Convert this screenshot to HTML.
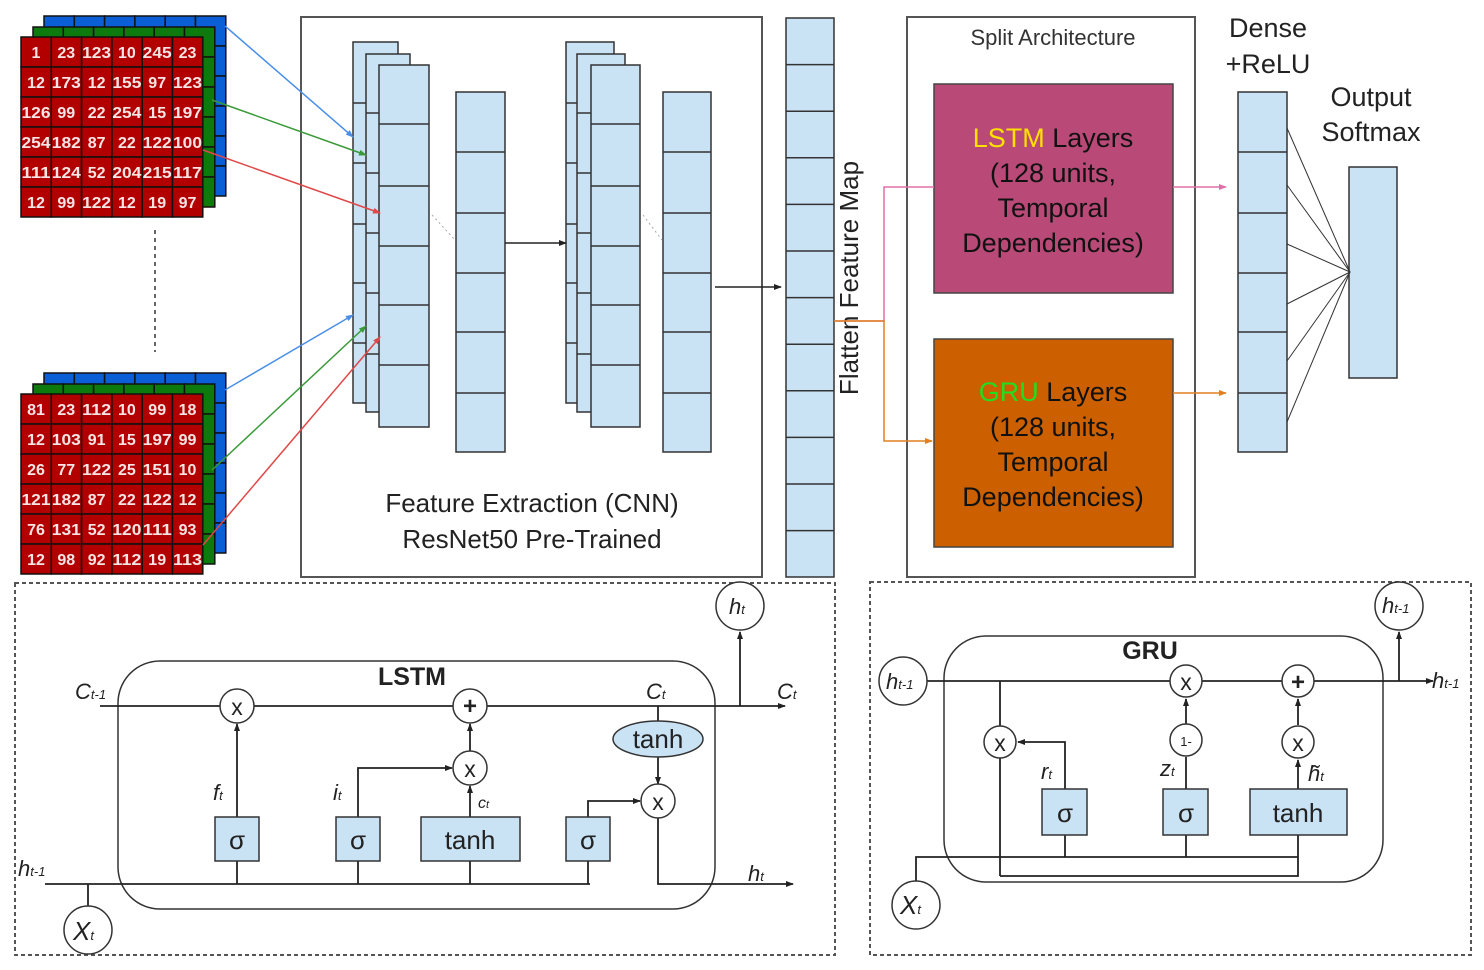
<!DOCTYPE html>
<html><head><meta charset="utf-8"><style>
html,body{margin:0;padding:0;background:#fff;}
svg{display:block;font-family:"Liberation Sans",sans-serif;}
</style></head><body>
<svg id="s" width="1484" height="970" viewBox="0 0 1484 970" xmlns="http://www.w3.org/2000/svg">
<defs>
<marker id="ak" markerWidth="8" markerHeight="8" refX="7" refY="4" orient="auto" markerUnits="userSpaceOnUse"><path d="M0,1 L8,4 L0,7z" fill="#222"/></marker>
<marker id="ab" markerWidth="8" markerHeight="8" refX="7" refY="4" orient="auto" markerUnits="userSpaceOnUse"><path d="M0,1 L8,4 L0,7z" fill="#4a8fe8"/></marker>
<marker id="ag" markerWidth="8" markerHeight="8" refX="7" refY="4" orient="auto" markerUnits="userSpaceOnUse"><path d="M0,1 L8,4 L0,7z" fill="#3a9a3a"/></marker>
<marker id="ar" markerWidth="8" markerHeight="8" refX="7" refY="4" orient="auto" markerUnits="userSpaceOnUse"><path d="M0,1 L8,4 L0,7z" fill="#e04848"/></marker>
<marker id="ap" markerWidth="8" markerHeight="8" refX="7" refY="4" orient="auto" markerUnits="userSpaceOnUse"><path d="M0,1 L8,4 L0,7z" fill="#e070a8"/></marker>
<marker id="ao" markerWidth="8" markerHeight="8" refX="7" refY="4" orient="auto" markerUnits="userSpaceOnUse"><path d="M0,1 L8,4 L0,7z" fill="#e08020"/></marker>
</defs>
<g id="grids"></g>
<line x1="155" y1="230" x2="155" y2="352" stroke="#333" stroke-width="1.5" stroke-dasharray="4,4"/>
<rect x="301" y="17" width="461" height="560" fill="none" stroke="#555" stroke-width="2"/>
<g id="cnn" fill="#c9e2f4" stroke="#333" stroke-width="1.5"></g>
<line x1="432" y1="215" x2="455" y2="240" stroke="#aaa" stroke-dasharray="2,3"/>
<line x1="643" y1="215" x2="662" y2="240" stroke="#aaa" stroke-dasharray="2,3"/>
<line x1="505" y1="243" x2="566" y2="243" stroke="#222" stroke-width="1.5" marker-end="url(#ak)"/>
<line x1="715" y1="287" x2="781" y2="287" stroke="#222" stroke-width="1.5" marker-end="url(#ak)"/>
<text x="532" y="512" font-size="26" text-anchor="middle" fill="#222">Feature Extraction (CNN)</text>
<text x="532" y="548" font-size="26" text-anchor="middle" fill="#222">ResNet50 Pre-Trained</text>
<line x1="225" y1="26" x2="353" y2="137" stroke="#4a8fe8" stroke-width="1.5" marker-end="url(#ab)"/>
<line x1="212" y1="100" x2="366" y2="155" stroke="#3a9a3a" stroke-width="1.5" marker-end="url(#ag)"/>
<line x1="203" y1="150" x2="380" y2="213" stroke="#e04848" stroke-width="1.5" marker-end="url(#ar)"/>
<line x1="225" y1="390" x2="353" y2="315" stroke="#4a8fe8" stroke-width="1.5" marker-end="url(#ab)"/>
<line x1="212" y1="470" x2="366" y2="326" stroke="#3a9a3a" stroke-width="1.5" marker-end="url(#ag)"/>
<line x1="203" y1="545" x2="380" y2="337" stroke="#e04848" stroke-width="1.5" marker-end="url(#ar)"/>
<g id="flat" fill="#c9e2f4" stroke="#333" stroke-width="1.5"></g>
<text transform="translate(858,278) rotate(-90)" font-size="26" text-anchor="middle" fill="#222">Flatten Feature Map</text>
<rect x="907" y="17" width="288" height="560" fill="none" stroke="#555" stroke-width="2"/>
<text x="1053" y="45" font-size="22" text-anchor="middle" fill="#333">Split Architecture</text>
<rect x="934" y="84" width="239" height="209" fill="#b94a77" stroke="#444" stroke-width="1.5"/>
<rect x="934" y="339" width="239" height="208" fill="#cc6000" stroke="#444" stroke-width="1.5"/>
<g font-size="27" text-anchor="middle" fill="#111">
<text x="1053" y="147"><tspan fill="#ffe000">LSTM</tspan> Layers</text>
<text x="1053" y="182">(128 units,</text>
<text x="1053" y="217">Temporal</text>
<text x="1053" y="252">Dependencies)</text>
<text x="1053" y="401"><tspan fill="#22dd22">GRU</tspan> Layers</text>
<text x="1053" y="436">(128 units,</text>
<text x="1053" y="471">Temporal</text>
<text x="1053" y="506">Dependencies)</text>
</g>
<polyline points="834,321 884,321 884,187 934,187" fill="none" stroke="#e070a8" stroke-width="1.5"/>
<polyline points="834,321 884,321 884,441 932,441" fill="none" stroke="#e08020" stroke-width="1.5" marker-end="url(#ao)"/>
<line x1="1173" y1="187" x2="1226" y2="187" stroke="#e070a8" stroke-width="1.5" marker-end="url(#ap)"/>
<line x1="1173" y1="393" x2="1226" y2="393" stroke="#e08020" stroke-width="1.5" marker-end="url(#ao)"/>
<text x="1268" y="37" font-size="27" text-anchor="middle" fill="#222">Dense</text>
<text x="1268" y="73" font-size="27" text-anchor="middle" fill="#222">+ReLU</text>
<text x="1371" y="106" font-size="27" text-anchor="middle" fill="#222">Output</text>
<text x="1371" y="141" font-size="27" text-anchor="middle" fill="#222">Softmax</text>
<g id="dense" fill="#c9e2f4" stroke="#333" stroke-width="1.5"></g>
<rect x="1349" y="167" width="48" height="211" fill="#c9e2f4" stroke="#333" stroke-width="1.5"/>
<g stroke="#333" stroke-width="1">
<line x1="1287" y1="128" x2="1350" y2="272"/><line x1="1287" y1="185" x2="1350" y2="272"/>
<line x1="1287" y1="244" x2="1350" y2="272"/><line x1="1287" y1="304" x2="1350" y2="272"/>
<line x1="1287" y1="361" x2="1350" y2="272"/><line x1="1287" y1="422" x2="1350" y2="272"/>
</g>
<rect x="15" y="583" width="820" height="372" fill="none" stroke="#555" stroke-width="2" stroke-dasharray="4,3"/>
<rect x="118" y="661" width="597" height="248" rx="42" fill="none" stroke="#333" stroke-width="1.5"/>
<text x="412" y="685" font-size="25" font-weight="bold" text-anchor="middle" fill="#222">LSTM</text>
<g stroke="#222" stroke-width="1.8" fill="none">
<line x1="100" y1="706" x2="785" y2="706" marker-end="url(#ak)"/>
<line x1="740" y1="706" x2="740" y2="632" marker-end="url(#ak)"/>
<line x1="45" y1="884" x2="590" y2="884"/>
<line x1="88" y1="884" x2="88" y2="906"/>
<line x1="237" y1="817" x2="237" y2="724" marker-end="url(#ak)"/>
<polyline points="358,817 358,768 452,768" marker-end="url(#ak)"/>
<line x1="358" y1="861" x2="358" y2="884"/><line x1="237" y1="861" x2="237" y2="884"/>
<line x1="470" y1="861" x2="470" y2="884"/><line x1="588" y1="861" x2="588" y2="884"/>
<line x1="470" y1="817" x2="470" y2="786" marker-end="url(#ak)"/>
<line x1="470" y1="751" x2="470" y2="724" marker-end="url(#ak)"/>
<polyline points="588,817 588,801 640,801" marker-end="url(#ak)"/>
<line x1="658" y1="706" x2="658" y2="721"/>
<line x1="658" y1="757" x2="658" y2="784" marker-end="url(#ak)"/>
<polyline points="658,818 658,884 793,884" marker-end="url(#ak)"/>
</g>
<g fill="#fff" stroke="#333" stroke-width="1.5">
<circle cx="237" cy="706" r="17"/><circle cx="470" cy="706" r="17"/><circle cx="470" cy="768" r="17"/><circle cx="658" cy="801" r="17"/>
<circle cx="740" cy="606" r="24"/><circle cx="88" cy="930" r="24"/>
</g>
<ellipse cx="658" cy="739" rx="45" ry="18" fill="#c9e2f4" stroke="#333" stroke-width="1.5"/>
<g fill="#c9e2f4" stroke="#333" stroke-width="1.5">
<rect x="215" y="817" width="44" height="44"/><rect x="336" y="817" width="44" height="44"/>
<rect x="421" y="817" width="99" height="44"/><rect x="566" y="817" width="44" height="44"/>
</g>
<g font-size="26" text-anchor="middle" fill="#222">
<text x="237" y="849">σ</text><text x="358" y="849">σ</text><text x="470" y="849">tanh</text><text x="588" y="849">σ</text>
<text x="658" y="748">tanh</text>
<text x="237" y="715" font-size="23">x</text><text x="470" y="714" font-size="24" font-weight="bold">+</text>
<text x="470" y="777" font-size="23">x</text><text x="658" y="810" font-size="23">x</text>
</g>
<g font-size="22" font-style="italic" fill="#222">
<text x="75" y="699">C<tspan font-size="13">t-1</tspan></text>
<text x="646" y="699">C<tspan font-size="13">t</tspan></text>
<text x="777" y="699">C<tspan font-size="13">t</tspan></text>
<text x="213" y="800">f<tspan font-size="13">t</tspan></text>
<text x="333" y="800">i<tspan font-size="13">t</tspan></text>
<text x="478" y="808" font-size="16">c<tspan font-size="11">t</tspan></text>
<text x="18" y="876">h<tspan font-size="13">t-1</tspan></text>
<text x="748" y="881">h<tspan font-size="13">t</tspan></text>
<text x="729" y="614">h<tspan font-size="13">t</tspan></text>
<text x="73" y="940" font-size="26">X<tspan font-size="13">t</tspan></text>
</g>
<rect x="870" y="582" width="601" height="373" fill="none" stroke="#555" stroke-width="2" stroke-dasharray="4,3"/>
<rect x="944" y="636" width="439" height="246" rx="42" fill="none" stroke="#333" stroke-width="1.5"/>
<text x="1150" y="659" font-size="25" font-weight="bold" text-anchor="middle" fill="#222">GRU</text>
<g stroke="#222" stroke-width="1.8" fill="none">
<line x1="927" y1="681" x2="1433" y2="681" marker-end="url(#ak)"/>
<line x1="1399" y1="681" x2="1399" y2="632" marker-end="url(#ak)"/>
<line x1="1000" y1="681" x2="1000" y2="876"/>
<polyline points="1000,876 1298,876 1298,835"/>
<polyline points="916,881 916,857 1298,857"/>
<line x1="1065" y1="835" x2="1065" y2="857"/><line x1="1186" y1="835" x2="1186" y2="857"/>
<polyline points="1065,789 1065,742 1018,742" marker-end="url(#ak)"/>
<line x1="1186" y1="789" x2="1186" y2="757"/>
<line x1="1186" y1="724" x2="1186" y2="699" marker-end="url(#ak)"/>
<line x1="1298" y1="789" x2="1298" y2="760" marker-end="url(#ak)"/>
<line x1="1298" y1="725" x2="1298" y2="699" marker-end="url(#ak)"/>
</g>
<g fill="#fff" stroke="#333" stroke-width="1.5">
<circle cx="1000" cy="742" r="16"/><circle cx="1186" cy="681" r="16"/><circle cx="1186" cy="740" r="16"/>
<circle cx="1298" cy="681" r="16"/><circle cx="1298" cy="742" r="16"/>
<circle cx="903" cy="681" r="24"/><circle cx="1399" cy="606" r="24"/><circle cx="916" cy="905" r="24"/>
</g>
<g fill="#c9e2f4" stroke="#333" stroke-width="1.5">
<rect x="1042" y="789" width="45" height="46"/><rect x="1163" y="789" width="45" height="46"/><rect x="1250" y="789" width="97" height="46"/>
</g>
<g font-size="26" text-anchor="middle" fill="#222">
<text x="1065" y="822">σ</text><text x="1186" y="822">σ</text><text x="1298" y="822">tanh</text>
<text x="1000" y="751" font-size="23">x</text><text x="1186" y="690" font-size="23">x</text>
<text x="1186" y="746" font-size="13">1-</text>
<text x="1298" y="690" font-size="24" font-weight="bold">+</text><text x="1298" y="751" font-size="23">x</text>
</g>
<g font-size="22" font-style="italic" fill="#222">
<text x="1041" y="779">r<tspan font-size="13">t</tspan></text>
<text x="1160" y="776">z<tspan font-size="13">t</tspan></text>
<text x="1308" y="781">h̃<tspan font-size="13">t</tspan></text>
<text x="886" y="689">h<tspan font-size="13">t-1</tspan></text>
<text x="1382" y="613">h<tspan font-size="13">t-1</tspan></text>
<text x="1432" y="688">h<tspan font-size="13">t-1</tspan></text>
<text x="900" y="914" font-size="26">X<tspan font-size="13">t</tspan></text>
</g>
</svg>
<script>
var NS="http://www.w3.org/2000/svg";
function R(p,x,y,w,h,a){var r=document.createElementNS(NS,"rect");r.setAttribute("x",x);r.setAttribute("y",y);r.setAttribute("width",w);r.setAttribute("height",h);if(a)for(var k in a)r.setAttribute(k,a[k]);p.appendChild(r);return r;}
function L(p,x1,y1,x2,y2){var l=document.createElementNS(NS,"line");l.setAttribute("x1",x1);l.setAttribute("y1",y1);l.setAttribute("x2",x2);l.setAttribute("y2",y2);p.appendChild(l);}
function T(p,x,y,s){var t=document.createElementNS(NS,"text");t.setAttribute("x",x);t.setAttribute("y",y);t.setAttribute("font-size","16");t.setAttribute("font-weight","bold");t.setAttribute("fill","#f8e4e4");t.setAttribute("text-anchor","middle");t.setAttribute("textLength",s.length>2?"29":"");if(s.length<3)t.removeAttribute("textLength");else t.setAttribute("lengthAdjust","spacingAndGlyphs");t.textContent=s;p.appendChild(t);}
var g=document.getElementById("grids");
var d1=[["1","23","123","10","245","23"],["12","173","12","155","97","123"],["126","99","22","254","15","197"],["254","182","87","22","122","100"],["111","124","52","204","215","117"],["12","99","122","12","19","97"]];
var d2=[["81","23","112","10","99","18"],["12","103","91","15","197","99"],["26","77","122","25","151","10"],["121","182","87","22","122","12"],["76","131","52","120","111","93"],["12","98","92","112","19","113"]];
function grid(oy,d){
 [[44,-21,"#0b5fd6"],[33,-10,"#0d7a0d"],[21,0,"#b20000"]].forEach(function(c){
  for(var i=0;i<6;i++)for(var j=0;j<6;j++)R(g,c[0]+j*30.3,oy+c[1]+i*30,30.3,30,{fill:c[2],stroke:"#111","stroke-width":"1.5"});
 });
 for(var i=0;i<6;i++)for(var j=0;j<6;j++)T(g,21+j*30.3+15,oy+i*30+21,d[i][j]);
}
grid(37,d1);grid(394,d2);
var c=document.getElementById("cnn");
function col(x,y,w,lines,h){R(c,x,y,w,h);lines.forEach(function(ly){L(c,x,ly,x+w,ly);});}
col(353,42,45,[103,163,224,283,343],361);
col(366,54,44,[113,173,233,293,354],358);
col(379,65,50,[124,186,246,305,365],362);
col(456,92,49,[152,213,273,332,393],360);
col(566,42,48,[103,163,224,283,343],361);
col(577,54,48,[113,173,233,293,354],358);
col(591,65,49,[124,186,246,305,365],362);
col(663,92,48,[152,213,273,332,393],360);
var f=document.getElementById("flat");var fl=[];for(var i=1;i<12;i++)fl.push(18+i*46.6);
R(f,786,18,48,559);fl.forEach(function(y){L(f,786,y,834,y);});
var dn=document.getElementById("dense");R(dn,1238,92,49,360);[152,213,273,332,393].forEach(function(y){L(dn,1238,y,1287,y);});
</script>
</body></html>
